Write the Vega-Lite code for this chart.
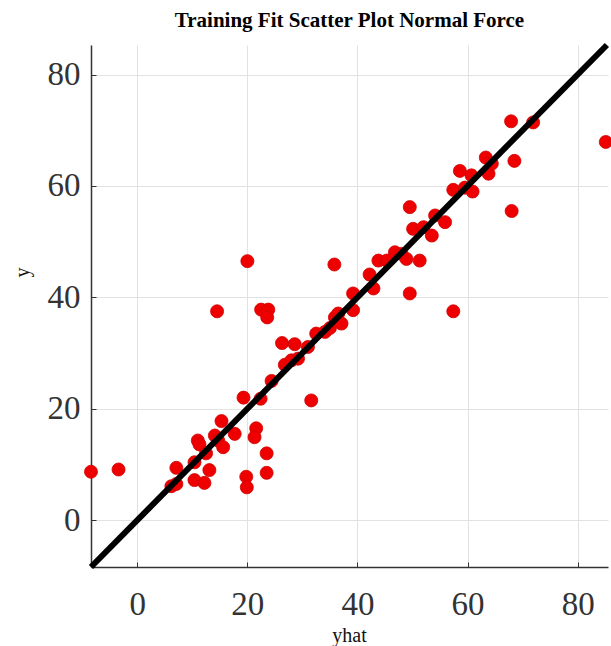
{
  "$schema": "https://vega.github.io/schema/vega-lite/v6.json",
  "autosize": "none",
  "width": 517,
  "height": 522,
  "padding": {"left": 91, "top": 45, "right": 3, "bottom": 79},
  "background": "white",
  "title": {
    "text": "Training Fit Scatter Plot Normal Force",
    "font": "Liberation Serif",
    "fontSize": 21,
    "fontWeight": "bold",
    "color": "#000",
    "anchor": "middle",
    "offset": 2
  },
  "config": {
    "view": {"stroke": null},
    "axis": {
      "labelFont": "Liberation Serif",
      "titleFont": "Liberation Serif",
      "labelColor": "#333",
      "titleColor": "#111",
      "titleFontWeight": "normal",
      "titleFontSize": 20,
      "labelFontSize": 33,
      "gridColor": "#e2e2e2",
      "gridWidth": 1,
      "domainColor": "#333",
      "domainWidth": 1.5,
      "tickColor": "#333",
      "tickSize": -5,
      "tickWidth": 1
    }
  },
  "datasets": {
    "pts": [
      {"yhat": -8.4, "y": 8.7}, {"yhat": -3.4, "y": 9.1}, {"yhat": 6.2, "y": 6.1}, {"yhat": 7.1, "y": 6.5},
      {"yhat": 7.1, "y": 9.4}, {"yhat": 10.4, "y": 10.4}, {"yhat": 10.4, "y": 7.2}, {"yhat": 12.2, "y": 6.7},
      {"yhat": 13.1, "y": 9.0}, {"yhat": 11.0, "y": 14.3}, {"yhat": 11.3, "y": 13.6}, {"yhat": 12.5, "y": 12.0},
      {"yhat": 14.1, "y": 15.2}, {"yhat": 14.7, "y": 14.3}, {"yhat": 15.3, "y": 17.8}, {"yhat": 15.6, "y": 13.1},
      {"yhat": 17.7, "y": 15.5}, {"yhat": 19.3, "y": 22.0}, {"yhat": 19.8, "y": 7.8}, {"yhat": 19.9, "y": 5.9},
      {"yhat": 21.6, "y": 16.5}, {"yhat": 21.3, "y": 14.9}, {"yhat": 22.4, "y": 21.8}, {"yhat": 23.5, "y": 12.0},
      {"yhat": 23.5, "y": 8.5}, {"yhat": 24.4, "y": 25.0}, {"yhat": 26.8, "y": 27.9}, {"yhat": 28.0, "y": 28.7},
      {"yhat": 29.2, "y": 29.0}, {"yhat": 26.3, "y": 31.8}, {"yhat": 28.6, "y": 31.6}, {"yhat": 31.0, "y": 31.1},
      {"yhat": 31.6, "y": 21.5}, {"yhat": 32.5, "y": 33.5}, {"yhat": 34.1, "y": 33.8}, {"yhat": 35.0, "y": 34.5},
      {"yhat": 35.9, "y": 36.4}, {"yhat": 36.5, "y": 37.1}, {"yhat": 37.1, "y": 35.3}, {"yhat": 20.0, "y": 46.5},
      {"yhat": 35.8, "y": 45.9}, {"yhat": 14.5, "y": 37.5}, {"yhat": 22.5, "y": 37.8}, {"yhat": 23.8, "y": 37.8},
      {"yhat": 23.6, "y": 36.4}, {"yhat": 39.2, "y": 40.7}, {"yhat": 39.2, "y": 37.7}, {"yhat": 42.2, "y": 44.1},
      {"yhat": 42.9, "y": 41.6}, {"yhat": 43.8, "y": 46.6}, {"yhat": 45.3, "y": 46.6}, {"yhat": 46.8, "y": 48.1},
      {"yhat": 48.0, "y": 47.8}, {"yhat": 48.9, "y": 46.9}, {"yhat": 49.5, "y": 40.7}, {"yhat": 49.5, "y": 56.2},
      {"yhat": 50.1, "y": 52.3}, {"yhat": 51.3, "y": 46.6}, {"yhat": 52.0, "y": 52.6}, {"yhat": 53.5, "y": 51.1},
      {"yhat": 54.1, "y": 54.7}, {"yhat": 55.9, "y": 53.5}, {"yhat": 57.4, "y": 37.5}, {"yhat": 57.4, "y": 59.3},
      {"yhat": 59.5, "y": 59.7}, {"yhat": 60.9, "y": 59.0}, {"yhat": 58.6, "y": 62.7}, {"yhat": 60.7, "y": 61.9},
      {"yhat": 63.8, "y": 62.2}, {"yhat": 63.3, "y": 65.1}, {"yhat": 64.4, "y": 64.0}, {"yhat": 68.5, "y": 64.5},
      {"yhat": 68.0, "y": 55.5}, {"yhat": 67.9, "y": 71.6}, {"yhat": 71.9, "y": 71.4}, {"yhat": 85.1, "y": 67.9}
    ],
    "fit": [
      {"yhat": -8.4, "y": -8.4},
      {"yhat": 85.3, "y": 85.3}
    ]
  },
  "layer": [
    {
      "data": {"name": "pts"},
      "mark": {"type": "circle", "size": 170, "color": "#ee0000", "opacity": 1, "stroke": "#d00000", "strokeWidth": 0.8},
      "encoding": {
        "x": {"field": "yhat", "type": "quantitative", "scale": {"domain": [-8.4, 85.5], "nice": false, "zero": false},
          "axis": {"values": [0, 20, 40, 60, 80], "title": "yhat", "labelPadding": 26, "titleX": 258, "titleY": 58, "titleBaseline": "top"}},
        "y": {"field": "y", "type": "quantitative", "scale": {"domain": [-8.4, 85.3], "nice": false, "zero": false},
          "axis": {"values": [0, 20, 40, 60, 80], "title": "y", "labelPadding": 16, "titleX": -69, "titleY": 227, "titleBaseline": "middle"}}
      }
    },
    {
      "data": {"name": "fit"},
      "mark": {"type": "line", "color": "#000", "strokeWidth": 6, "clip": false},
      "encoding": {
        "x": {"field": "yhat", "type": "quantitative"},
        "y": {"field": "y", "type": "quantitative"}
      }
    }
  ]
}
